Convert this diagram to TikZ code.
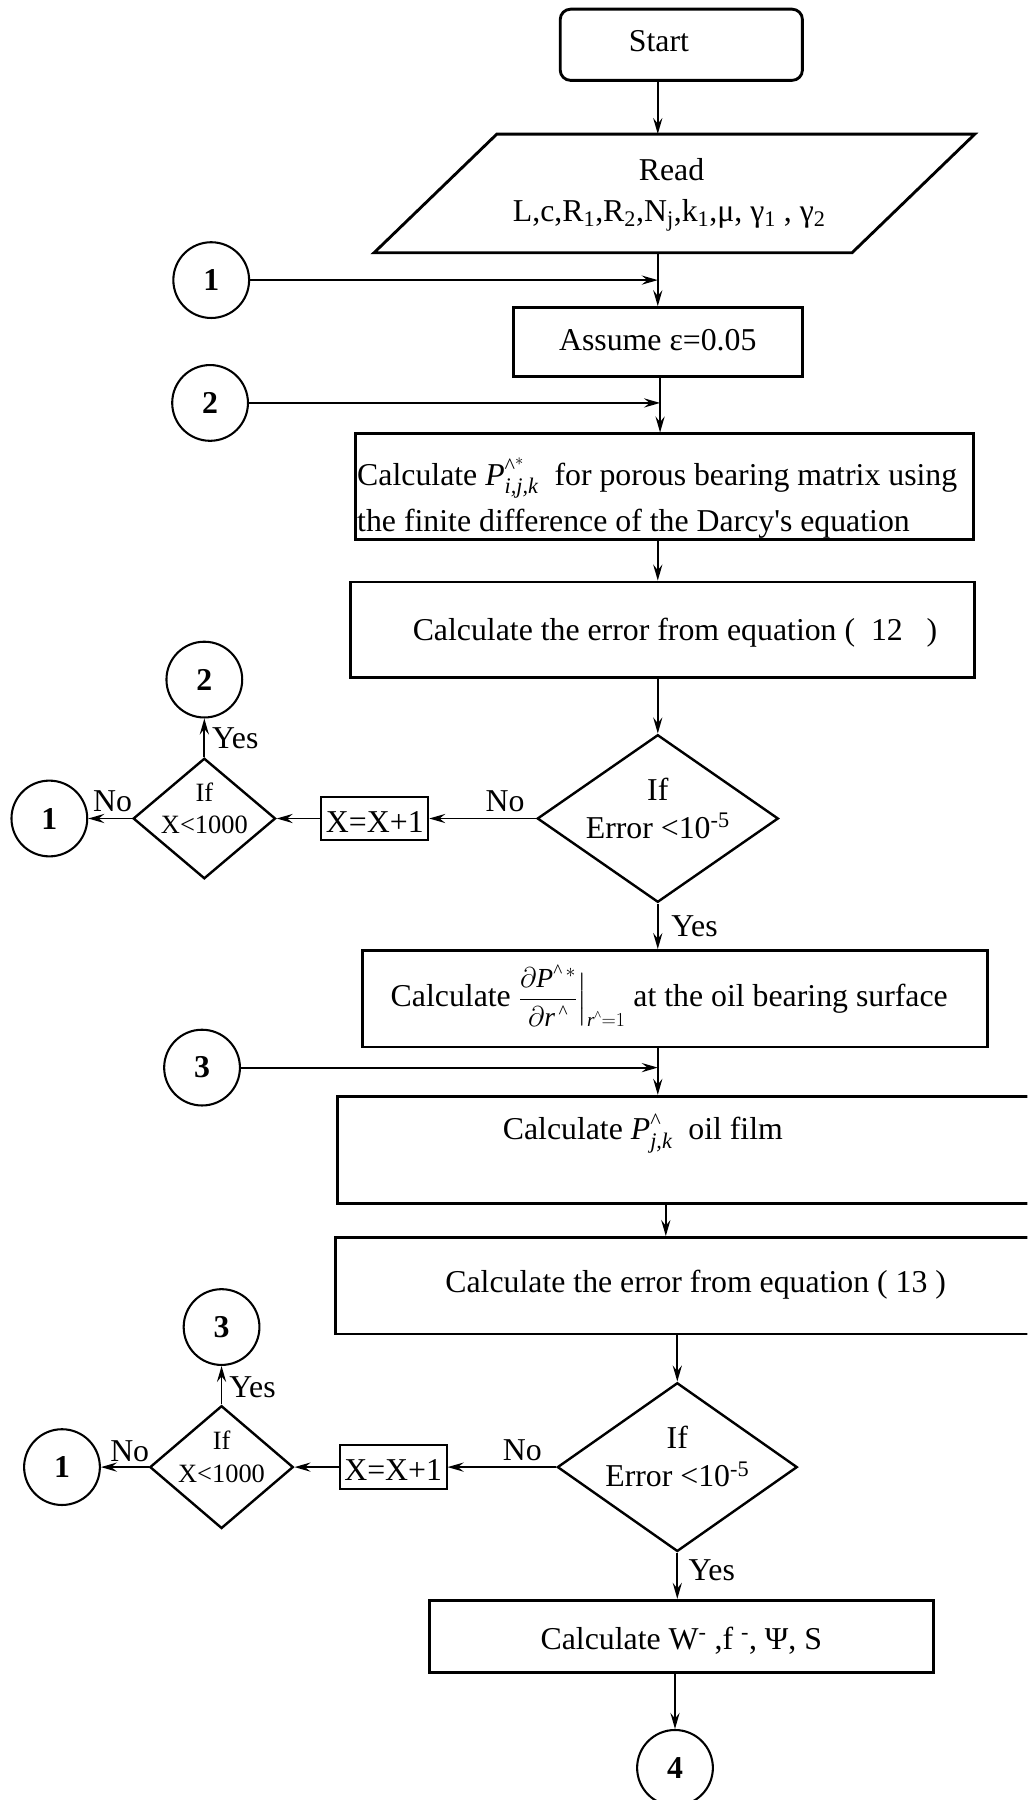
\documentclass[tikz,border=0pt]{standalone}
\usepackage{amsmath}
\usepackage{fontspec}
\setmainfont{Liberation Serif}
\usetikzlibrary{arrows.meta,shapes.geometric}
\newcommand{\crt}{\text{\textasciicircum}}
\begin{document}
\begin{tikzpicture}[x=1pt,y=-1pt,
  font=\fontsize{27.7}{34}\selectfont,
  box/.style={draw, line width=2.5pt, inner sep=0pt},
  dia/.style={draw, diamond, line width=2.1pt, inner sep=0pt},
  circ/.style={draw, circle, line width=1.8pt, inner sep=0pt, minimum size=66pt, font=\fontsize{27.7}{34}\selectfont\bfseries},
  conn/.style={line width=1.6pt, -{Stealth[length=14pt,width=8pt,inset=5pt]}},
  txt/.style={anchor=base, inner sep=0pt},
  small/.style={anchor=base, inner sep=0pt, font=\fontsize{23}{28}\selectfont}]
\useasboundingbox (0,0) rectangle (895,1568);
\clip (0,0) rectangle (895,1568);
% column coordinates
\coordinate (xa) at (573,0);
\coordinate (xb) at (575,0);
\coordinate (xc) at (580,0);
\coordinate (xd) at (590,0);
\coordinate (xe) at (588,0);
% start
\node[box, rounded corners=9pt, minimum width=211pt, minimum height=62pt] (start) at (593.5,39) {};
\node[txt] (starttxt) at (574,45) {Start};
% read
\node[inner sep=0pt, minimum width=523pt, minimum height=103pt] (read) at (587.5,168.5) {};
\draw[line width=2.5pt] ([xshift=107pt]read.north west) -- (read.north east) -- ([xshift=-107pt]read.south east) -- (read.south west) -- cycle;
\node[txt] (readt1) at (585,157) {Read};
\node[txt] (readt2) at (583,193) {L,c,R\textsubscript{1},R\textsubscript{2},N\textsubscript{j},k\textsubscript{1},μ, γ\textsubscript{1} , γ\textsubscript{2}};
% assume
\node[box, minimum width=252pt, minimum height=60pt] (assume) at (573,298) {};
\node[txt] (assumet) at (573,305) {Assume ε=0.05};
% calc P
\node[box, minimum width=538pt, minimum height=92pt] (calcp) at (579,424) {};
\node[anchor=base west, inner sep=0pt] (calcpt1) at (311,423) {Calculate $\textit{P}^{\crt^{*}}_{\textit{i,j,k}}$\ \ for porous bearing matrix using};
\node[anchor=base west, inner sep=0pt] (calcpt2) at (311,463) {the finite difference of the Darcy\textquotesingle s equation};
% error 12
\node[box, minimum width=544pt, minimum height=83pt] (err1) at (577,548.5) {};
\node[txt] (err1t) at (588,558) {Calculate the error from equation (\ \ 12\ \ \ )};
% diamond 1
\node[dia, minimum width=210pt, minimum height=146pt] (d1) at (573,713) {};
\node[txt] (d1t1) at (573,697) {If};
\node[txt] (d1t2) at (573,730) {Error <10\textsuperscript{-5}};
% X=X+1 box
\node[box, line width=1.8pt, minimum width=93pt, minimum height=37pt] (xx1) at (326.5,713) {};
\node[txt] (xx1t) at (326.5,725) {X=X+1};
% diamond 2
\node[dia, minimum width=124pt, minimum height=105pt] (d2) at (178,713) {};
\node[small] (d2t1) at (178,698) {If};
\node[small] (d2t2) at (178,726) {X<1000};
% circles
\node[circ] (c1a) at (184,244) {1};
\node[circ] (c2a) at (183,351) {2};
\node[circ] (c2b) at (178,592) {2};
\node[circ] (c1b) at (43,713) {1};
\node[circ] (c3a) at (176,930) {3};
\node[circ] (c3b) at (193,1156) {3};
\node[circ] (c1c) at (54,1278) {1};
\node[circ] (c4) at (588,1540) {4};
% dP box
\node[box, minimum width=544pt, minimum height=84pt] (dp) at (588,870) {};
\node[txt] (dpt) at (583,877) {Calculate {\fontsize{24}{28}\selectfont$\dfrac{\partial \textit{P}^{\crt\,{*}}}{\partial \textit{r}^{\,\crt}}\Big|_{\textit{r}^{\crt}=1}$} at the oil bearing surface};
% film box
\node[box, minimum width=611pt, minimum height=93pt] (film) at (599.5,1001.5) {};
\node[txt] (filmt) at (560,993) {Calculate $\textit{P}^{\crt}_{\textit{j,k}}$\ \ oil film};
% error 13
\node[box, minimum width=613pt, minimum height=84pt] (err2) at (598.5,1120) {};
\node[txt] (err2t) at (606,1126) {Calculate the error from equation ( 13 )};
% diamond 3
\node[dia, minimum width=209pt, minimum height=147pt] (d3) at (590,1278) {};
\node[txt] (d3t1) at (590,1262) {If};
\node[txt] (d3t2) at (590,1295) {Error <10\textsuperscript{-5}};
\node[box, line width=1.8pt, minimum width=93pt, minimum height=38pt] (xx2) at (342.5,1278) {};
\node[txt] (xx2t) at (342.5,1290) {X=X+1};
\node[dia, minimum width=125pt, minimum height=107pt] (d4) at (193,1278) {};
\node[small] (d4t1) at (193,1263) {If};
\node[small] (d4t2) at (193,1291) {X<1000};
% W box
\node[box, minimum width=439pt, minimum height=63pt] (wbox) at (593.5,1425.5) {};
\node[txt] (wt) at (593.5,1437) {Calculate W\textsuperscript{-} ,f \textsuperscript{-}, Ψ, S};
% labels
\node[txt] (no1) at (440,707) {No};
\node[txt] (no2) at (98,707) {No};
\node[txt] (yes1) at (205,652) {Yes};
\node[txt] (yes2) at (605,816) {Yes};
\node[txt] (no3) at (455,1272) {No};
\node[txt] (no4) at (113,1273) {No};
\node[txt] (yes3) at (220,1217) {Yes};
\node[txt] (yes4) at (620,1377) {Yes};
% connectors
\draw[conn] (start.south -| xa) -- (read.north -| xa);
\draw[conn] (read.south -| xa) -- (assume.north -| xa);
\draw[conn] (c1a.east) -- (c1a.east -| xa);
\draw[conn] (assume.south -| xb) -- (calcp.north -| xb);
\draw[conn] (c2a.east) -- (c2a.east -| xb);
\draw[conn] (calcp.south -| xa) -- (err1.north -| xa);
\draw[conn] (err1.south -| xa) -- (d1.north);
\draw[conn] (d1.west) -- (xx1.east);
\draw[conn] (xx1.west) -- (d2.east);
\draw[conn] (d2.north) -- (c2b.south);
\draw[conn] (d2.west) -- (c1b.east);
\draw[conn] (d1.south) -- (dp.north -| d1.south);
\draw[conn] (dp.south -| xa) -- (film.north -| xa);
\draw[conn] (c3a.east) -- (c3a.east -| xa);
\draw[conn] (film.south -| xc) -- (err2.north -| xc);
\draw[conn] (err2.south -| xd) -- (d3.north);
\draw[conn] (d3.west) -- (xx2.east);
\draw[conn] (xx2.west) -- (d4.east);
\draw[conn] (d4.north) -- (c3b.south);
\draw[conn] (d4.west) -- (c1c.east);
\draw[conn] (d3.south) -- (wbox.north -| d3.south);
\draw[conn] (wbox.south -| xe) -- (c4.north);
\end{tikzpicture}
\end{document}
